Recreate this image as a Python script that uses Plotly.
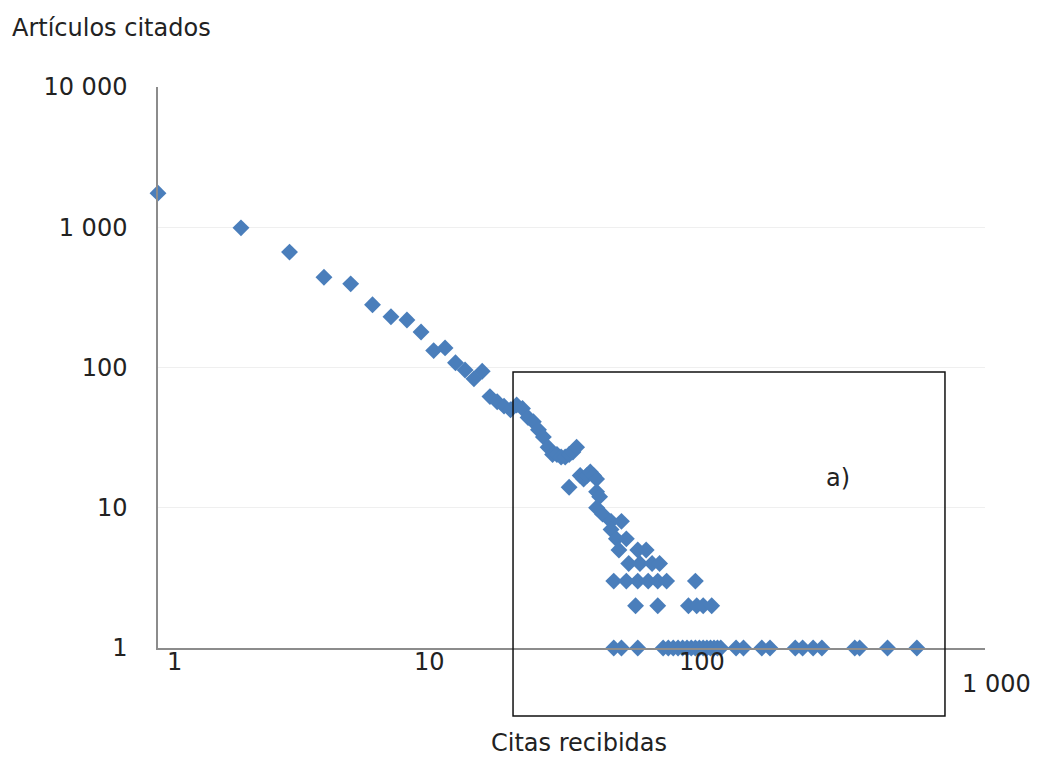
import math
import plotly.graph_objects as go

# ---- data ----
citas = [1, 2, 3, 4, 5, 6, 7, 8, 9, 10, 11, 12, 13, 14, 15, 16, 17, 18, 19, 20,
         21, 22, 23, 24, 25, 26, 27, 28, 29, 30, 31, 32, 33, 31, 34, 35, 36, 37, 38, 39,
         39, 40, 39, 41, 44, 48, 44, 46, 50, 47, 55, 59, 51, 56, 62, 66,
         45, 50, 55, 60, 65, 70, 89,
         54, 65, 84, 90, 95, 102,
         45, 48, 55, 68, 71, 74, 77, 80, 83, 86, 89, 92, 95, 98, 101, 104, 107, 110,
         125, 133, 155, 166, 205, 218, 238, 256, 337, 351, 443, 566]
articulos = [1750, 990, 665, 440, 395, 280, 230, 218, 179, 132, 138, 108, 96, 83, 94, 62, 57, 53, 50, 54,
             51, 44, 41, 36, 32, 27, 24, 24, 23, 23, 24, 25, 27, 14, 17, 16, 17, 18, 17, 16,
             13, 12, 10, 9, 8, 8, 7, 6, 6, 5, 5, 5, 4, 4, 4, 4,
             3, 3, 3, 3, 3, 3, 3,
             2, 2, 2, 2, 2, 2,
             1, 1, 1, 1, 1, 1, 1, 1, 1, 1, 1, 1, 1, 1, 1, 1, 1, 1,
             1, 1, 1, 1, 1, 1, 1, 1, 1, 1, 1, 1]

y_tick_values = [1, 10, 100, 1000, 10000]
y_tick_labels = ["1", "10", "100", "1 000", "10 000"]
x_tick_values = [1, 10, 100, 1000]
x_tick_labels = ["1", "10", "100", "1 000"]

y_title = "Artículos citados"
x_title = "Citas recibidas"
box_label = "a)"

# ---- styling ----
FONT = "DejaVu Sans"
TXT = "#222222"
FS = 24
BLUE = "#4A7EBB"

fig = go.Figure()
fig.add_trace(go.Scatter(
    x=citas, y=articulos, mode="markers",
    marker=dict(symbol="diamond", size=13, color=BLUE, line=dict(width=0)),
    cliponaxis=False, showlegend=False, hoverinfo="x+y",
))

fig.update_layout(
    width=1034, height=750,
    margin=dict(l=150, r=57, t=79, b=110),
    paper_bgcolor="white", plot_bgcolor="white",
    font=dict(family=FONT, size=FS, color=TXT),
    xaxis=dict(type="log", range=[0, 3], showgrid=False, zeroline=False,
               showline=True, linecolor="#8c8c8c", linewidth=1.5,
               showticklabels=False, ticks=""),
    yaxis=dict(type="log", range=[0, 4], showgrid=True, gridcolor="#efefef", gridwidth=1,
               zeroline=False, showline=True, linecolor="#8c8c8c", linewidth=1.5,
               tickvals=y_tick_values, ticktext=y_tick_labels, ticks="",
               ticklabelstandoff=24, tickfont=dict(family=FONT, size=FS, color=TXT)),
)

# x tick labels (placed like the reference)
x_shifts = [16, -4, -7, 11]
y_shifts = [-30, -30, -30, -52]
for v, lab, dx, dy in zip(x_tick_values, x_tick_labels, x_shifts, y_shifts):
    fig.add_annotation(x=math.log10(v), y=0, xref="x", yref="paper", text=lab,
                       showarrow=False, xshift=dx, yshift=dy,
                       font=dict(family=FONT, size=FS, color=TXT))

fig.add_annotation(x=-0.179, y=1.105, xref="paper", yref="paper", text=y_title,
                   showarrow=False, xanchor="left", yanchor="middle",
                   font=dict(family=FONT, size=FS, color=TXT))
fig.add_annotation(x=0.509, y=-0.170, xref="paper", yref="paper", text=x_title,
                   showarrow=False, xanchor="center", yanchor="middle",
                   font=dict(family=FONT, size=FS, color=TXT))
fig.add_annotation(x=0.822, y=0.303, xref="paper", yref="paper", text=box_label,
                   showarrow=False, xanchor="center", yanchor="middle",
                   font=dict(family=FONT, size=FS, color=TXT))

fig.add_shape(type="rect", xref="paper", yref="paper",
              x0=0.4293, x1=0.9516, y0=-0.1212, y1=0.492,
              line=dict(color="#111111", width=1.5), fillcolor="rgba(0,0,0,0)")

fig.write_html("out.html")
